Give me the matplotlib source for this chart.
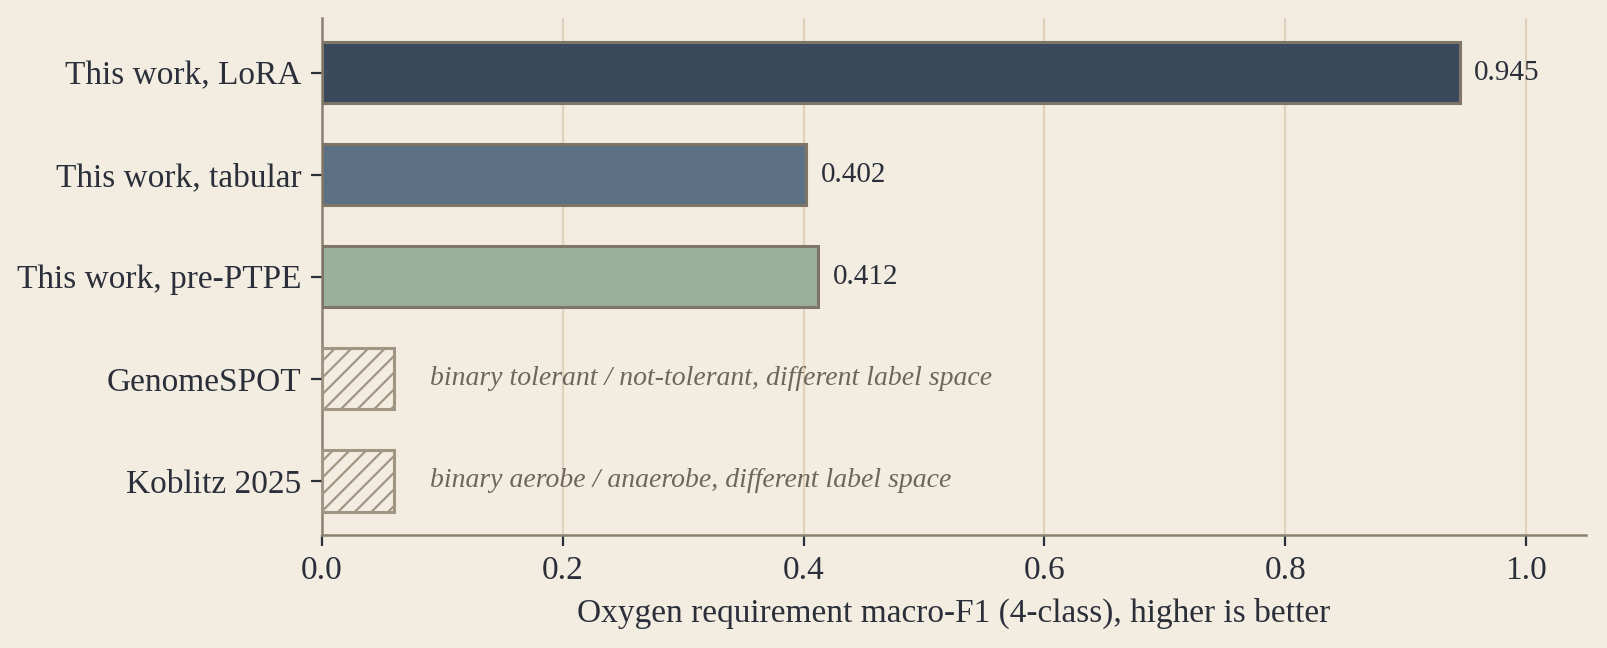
import matplotlib
matplotlib.use("Agg")
import matplotlib.pyplot as plt

plt.rcParams['font.family'] = ['Liberation Serif', 'DejaVu Serif']
plt.rcParams['hatch.linewidth'] = 0.8

labels = ['This work, LoRA', 'This work, tabular', 'This work, pre-PTPE', 'GenomeSPOT', 'Koblitz 2025']
values = [0.945, 0.402, 0.412, None, None]
colors = ['#3a4a5c', '#5b7085', '#9ab09a']
placeholder = 0.06
notes = ['binary tolerant / not-tolerant, different label space',
         'binary aerobe / anaerobe, different label space']

bg = '#f3ece1'
ink = '#2a2f3a'
edge = '#7f7566'
spine = '#8c806e'

fig = plt.figure(figsize=(8.035, 3.24), dpi=200, facecolor=bg)
ax = fig.add_axes([0.2004, 0.1744, 0.7866, 0.7971])
ax.set_facecolor(bg)

y = list(range(len(labels)))
for i, v in enumerate(values):
    if v is not None:
        ax.barh(y[i], v, height=0.6, color=colors[i], edgecolor=edge, linewidth=1.1, zorder=3)
        ax.text(v + 0.012, y[i], f'{v:.3f}', va='center', ha='left', fontsize=10.5, color=ink, zorder=4)
    else:
        ax.barh(y[i], placeholder, height=0.6, color=bg, edgecolor='#a09683', hatch='////',
                linewidth=1.1, zorder=3)
        ax.text(0.09, y[i], notes[i - 3], va='center', ha='left', fontsize=10,
                style='italic', color='#6e665a', zorder=4)

ax.set_yticks(y)
ax.set_yticklabels(labels, fontsize=12, color=ink)
ax.invert_yaxis()
ax.set_xlim(0, 1.05)
ax.set_xticks([0.0, 0.2, 0.4, 0.6, 0.8, 1.0])
ax.set_xticklabels(['0.0', '0.2', '0.4', '0.6', '0.8', '1.0'], fontsize=12, color=ink)
ax.set_xlabel('Oxygen requirement macro-F1 (4-class), higher is better', fontsize=12, color=ink)

ax.grid(axis='x', color='#e0d2bc', linewidth=0.8, zorder=0)
ax.set_axisbelow(True)
for s in ['top', 'right']:
    ax.spines[s].set_visible(False)
for s in ['left', 'bottom']:
    ax.spines[s].set_color(spine)
    ax.spines[s].set_linewidth(0.9)
ax.tick_params(axis='both', colors=ink, length=4, width=0.8)

fig.savefig('out.png', dpi=200, facecolor=bg)
